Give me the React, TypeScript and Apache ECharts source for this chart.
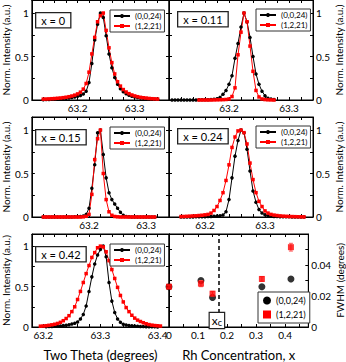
import { useEffect, useRef } from "react";
import * as echarts from "echarts";

const FONT = "Lato, 'Open Sans', 'DejaVu Sans', sans-serif";
const NAME_BLACK = "(0,0,24)";
const NAME_RED = "(1,2,21)";

// ---------- Panel 1 : x = 0
const p1X = [63.14, 63.145, 63.15, 63.155, 63.16, 63.165, 63.17, 63.175, 63.18, 63.185, 63.19, 63.195, 63.2, 63.205, 63.21, 63.215, 63.22, 63.225, 63.23, 63.235, 63.24, 63.245, 63.25, 63.255, 63.26, 63.265, 63.27, 63.275, 63.28, 63.285, 63.29, 63.295, 63.3, 63.305, 63.31, 63.315, 63.32, 63.325, 63.33, 63.335, 63.34];
const p1Black = [0.004, 0.005, 0.006, 0.008, 0.009, 0.011, 0.013, 0.016, 0.019, 0.023, 0.028, 0.034, 0.042, 0.052, 0.068, 0.1, 0.2, 0.42, 0.69, 0.87, 1.0, 0.95, 0.74, 0.53, 0.37, 0.26, 0.18, 0.13, 0.095, 0.072, 0.056, 0.044, 0.035, 0.028, 0.023, 0.019, 0.016, 0.013, 0.011, 0.009, 0.008];
const p1Red = [0.01, 0.011, 0.013, 0.015, 0.017, 0.02, 0.023, 0.027, 0.032, 0.038, 0.046, 0.056, 0.07, 0.09, 0.125, 0.19, 0.32, 0.53, 0.72, 0.9, 0.97, 1.0, 0.8, 0.6, 0.43, 0.3, 0.21, 0.16, 0.12, 0.092, 0.073, 0.058, 0.047, 0.038, 0.031, 0.026, 0.022, 0.018, 0.015, 0.013, 0.011];

// ---------- Panel 2 : x = 0.11
const p2BlackX = [63.105, 63.11, 63.115, 63.12, 63.125, 63.13, 63.135, 63.14, 63.145, 63.15, 63.155, 63.16, 63.165, 63.17, 63.175, 63.18, 63.185, 63.19, 63.195, 63.2, 63.205, 63.21, 63.215, 63.22, 63.225, 63.23, 63.235, 63.24, 63.245, 63.25, 63.255, 63.26, 63.265, 63.27, 63.275];
const p2Black = [0, 0, 0, 0, 0, 0, 0, 0.001, 0.001, 0.002, 0.002, 0.003, 0.004, 0.005, 0.008, 0.015, 0.03, 0.065, 0.11, 0.18, 0.28, 0.48, 0.65, 0.84, 1.0, 0.9, 0.72, 0.5, 0.3, 0.18, 0.1, 0.05, 0.02, 0.01, 0.005];
const p2RedX = [63.15, 63.155, 63.16, 63.165, 63.17, 63.175, 63.18, 63.185, 63.19, 63.195, 63.2, 63.205, 63.21, 63.215, 63.22, 63.225, 63.23, 63.235, 63.24, 63.245, 63.25, 63.255, 63.26, 63.265, 63.27, 63.275];
const p2Red = [0, 0, 0, 0, 0, 0.001, 0.002, 0.003, 0.004, 0.006, 0.012, 0.04, 0.14, 0.52, 0.78, 1.0, 0.9, 0.62, 0.33, 0.11, 0.035, 0.012, 0.005, 0.002, 0.001, 0];

// ---------- Panel 3 : x = 0.15
const p3X = [63.12, 63.125, 63.13, 63.135, 63.14, 63.145, 63.15, 63.155, 63.16, 63.165, 63.17, 63.175, 63.18, 63.185, 63.19, 63.195, 63.2, 63.205, 63.21, 63.215, 63.22, 63.225, 63.23, 63.235, 63.24, 63.245, 63.25, 63.255, 63.26, 63.265, 63.27, 63.275, 63.28, 63.285, 63.29, 63.295, 63.3, 63.305, 63.31, 63.315];
const p3Black = [0, 0, 0, 0, 0, 0, 0, 0, 0, 0, 0.001, 0.002, 0.003, 0.006, 0.012, 0.03, 0.1, 0.33, 0.6, 0.97, 1.0, 0.72, 0.45, 0.28, 0.2, 0.15, 0.1, 0.055, 0.02, 0.006, 0.002, 0, 0, 0, 0, 0, 0, 0, 0, 0];
const p3Red = [0, 0, 0, 0, 0, 0, 0, 0, 0, 0, 0, 0, 0, 0, 0.002, 0.008, 0.03, 0.26, 0.66, 0.9, 1.0, 0.5, 0.2, 0.06, 0.02, 0.006, 0.002, 0, 0, 0, 0, 0, 0, 0, 0, 0, 0, 0, 0, 0];

// ---------- Panel 4 : x = 0.24
const p4X = [63.16, 63.165, 63.17, 63.175, 63.18, 63.185, 63.19, 63.195, 63.2, 63.205, 63.21, 63.215, 63.22, 63.225, 63.23, 63.235, 63.24, 63.245, 63.25, 63.255, 63.26, 63.265, 63.27, 63.275, 63.28, 63.285, 63.29, 63.295, 63.3, 63.305, 63.31, 63.315, 63.32, 63.325, 63.33, 63.335, 63.34, 63.345, 63.35, 63.355, 63.36, 63.365];
const p4Black = [0, 0, 0, 0.001, 0.001, 0.002, 0.002, 0.003, 0.004, 0.005, 0.006, 0.008, 0.01, 0.014, 0.022, 0.06, 0.2, 0.45, 0.7, 0.88, 1.0, 0.97, 0.78, 0.53, 0.3, 0.17, 0.085, 0.045, 0.025, 0.015, 0.01, 0.007, 0.005, 0.004, 0.003, 0.002, 0.002, 0.001, 0.001, 0.001, 0, 0];
const p4Red = [0.005, 0.006, 0.008, 0.01, 0.012, 0.014, 0.017, 0.02, 0.025, 0.03, 0.045, 0.075, 0.12, 0.19, 0.28, 0.42, 0.6, 0.8, 0.92, 0.99, 1.0, 0.97, 0.84, 0.62, 0.43, 0.28, 0.18, 0.12, 0.07, 0.045, 0.03, 0.022, 0.017, 0.013, 0.01, 0.008, 0.006, 0.005, 0.004, 0.003, 0.002, 0.001];

// ---------- Panel 5 : x = 0.42
const p5BlackX = [63.205, 63.21, 63.215, 63.22, 63.225, 63.23, 63.235, 63.24, 63.245, 63.25, 63.255, 63.26, 63.265, 63.27, 63.275, 63.28, 63.285, 63.29, 63.295, 63.3, 63.305, 63.31, 63.315, 63.32, 63.325, 63.33, 63.335, 63.34, 63.345, 63.35, 63.355, 63.36, 63.365, 63.37, 63.375, 63.38, 63.385, 63.39, 63.395, 63.4];
const p5Black = [0.004, 0.005, 0.006, 0.008, 0.01, 0.013, 0.017, 0.022, 0.028, 0.036, 0.047, 0.062, 0.1, 0.155, 0.26, 0.44, 0.62, 0.78, 0.89, 0.96, 1.0, 0.87, 0.55, 0.32, 0.18, 0.1, 0.06, 0.035, 0.026, 0.019, 0.014, 0.011, 0.008, 0.006, 0.005, 0.004, 0.003, 0.002, 0.002, 0.001];
const p5RedX = [63.195, 63.2, 63.205, 63.21, 63.215, 63.22, 63.225, 63.23, 63.235, 63.24, 63.245, 63.25, 63.255, 63.26, 63.265, 63.27, 63.275, 63.28, 63.285, 63.29, 63.295, 63.3, 63.305, 63.31, 63.315, 63.32, 63.325, 63.33, 63.335, 63.34, 63.345, 63.35, 63.355, 63.36, 63.365, 63.37, 63.375, 63.38, 63.385, 63.39, 63.395, 63.4, 63.405];
const p5Red = [0.01, 0.012, 0.016, 0.021, 0.027, 0.034, 0.044, 0.058, 0.078, 0.105, 0.14, 0.19, 0.25, 0.34, 0.44, 0.55, 0.66, 0.76, 0.86, 0.92, 0.98, 1.0, 0.99, 0.93, 0.82, 0.71, 0.6, 0.49, 0.39, 0.31, 0.24, 0.19, 0.145, 0.11, 0.085, 0.068, 0.053, 0.04, 0.03, 0.023, 0.018, 0.015, 0.012];

// ---------- Panel 6 : FWHM vs Rh concentration (positions)
const fwhmX = [0, 0.11, 0.15, 0.32, 0.42];
const fwhmBlack = [0.026, 0.030, 0.019, 0.026, 0.031];
const fwhmRed = [0.026, 0.028, 0.0215, 0.031, 0.0515];
const fwhmRedErr = [0.001, 0.002, 0.0015, 0.0015, 0.0025];
const xc = 0.165;

// tick labels
const peakYLabels = [0, 0.5, 1];
const peakYTicks = [0, 0.25, 0.5, 0.75, 1];
const fwhmXLabels = [0, 0.1, 0.2, 0.3, 0.4];
const fwhmYLabels = [0, 0.02, 0.04];

const PANELS = [
  { label: "x = 0", xMin: 63.12, xMax: 63.36, labels: [63.2, 63.3], bx: p1X, by: p1Black, rx: p1X, ry: p1Red },
  { label: "x = 0.11", xMin: 63.1, xMax: 63.34, labels: [63.2, 63.3], bx: p2BlackX, by: p2Black, rx: p2RedX, ry: p2Red },
  { label: "x = 0.15", xMin: 63.1, xMax: 63.34, labels: [63.2, 63.3], bx: p3X, by: p3Black, rx: p3X, ry: p3Red },
  { label: "x = 0.24", xMin: 63.14, xMax: 63.38, labels: [63.2, 63.3], bx: p4X, by: p4Black, rx: p4X, ry: p4Red },
  { label: "x = 0.42", xMin: 63.18, xMax: 63.42, labels: [63.2, 63.3, 63.4], bx: p5BlackX, by: p5Black, rx: p5RedX, ry: p5Red },
];

const GRID_BOXES = [
  { left: 24, top: 0, width: 145, height: 100 },
  { left: 169, top: 0, width: 144, height: 100 },
  { left: 24, top: 117, width: 145, height: 100 },
  { left: 169, top: 117, width: 144, height: 100 },
  { left: 24, top: 234, width: 145, height: 99 },
  { left: 169, top: 234, width: 144, height: 99 },
];

function steps(min: number, max: number, step: number) {
  const out: number[] = [];
  const start = Math.ceil(min / step - 1e-6) * step;
  for (let v = start; v <= max + 1e-9; v += step) out.push(Math.round(v * 1e6) / 1e6);
  return out;
}

const fmt = (v: number) => String(parseFloat(Number(v).toFixed(4)));

function makeAxis(
  kind: "x" | "y",
  gridIndex: number,
  min: number,
  max: number,
  ticks: number[],
  labels: number[] | null,
  position: string,
  name = "",
  nameGap = 0
) {
  return {
    type: "value",
    gridIndex,
    min,
    max,
    position,
    name,
    nameLocation: "middle",
    nameGap,
    nameRotate: kind === "y" ? 90 : 0,
    nameTextStyle: {
      fontFamily: FONT,
      fontSize: kind === "y" ? 10 : 13,
      color: "#000",
    },
    axisLine: { show: true, onZero: false, lineStyle: { color: "#000", width: 1 } },
    axisTick: {
      show: true,
      inside: true,
      length: 3,
      customValues: ticks,
      lineStyle: { color: "#000", width: 1 },
    },
    axisLabel: labels
      ? {
          show: true,
          customValues: labels,
          formatter: fmt,
          fontFamily: FONT,
          fontSize: 10,
          color: "#000",
          margin: 3,
        }
      : { show: false },
    splitLine: { show: false },
  };
}

export default function App() {
  const ref = useRef<HTMLDivElement>(null);

  useEffect(() => {
    if (!ref.current) return;
    const chart = echarts.init(ref.current, undefined, { renderer: "svg" });

    const grid = GRID_BOXES.map((g) => ({
      ...g,
      show: true,
      borderColor: "#000",
      borderWidth: 1,
      backgroundColor: "transparent",
    }));

    const xAxis: any[] = [];
    const yAxis: any[] = [];
    const series: any[] = [];
    const legend: any[] = [];
    const graphic: any[] = [];

    PANELS.forEach((p, i) => {
      const col = i % 2;
      const xt = steps(p.xMin, p.xMax, 0.02);
      xAxis.push(
        makeAxis("x", i, p.xMin, p.xMax, xt, p.labels, "bottom", i === 4 ? "Two Theta (degrees)" : "", 21)
      );
      xAxis.push(makeAxis("x", i, p.xMin, p.xMax, xt, null, "top"));
      yAxis.push(
        makeAxis("y", i, 0, 1.15, peakYTicks, peakYLabels, col === 0 ? "left" : "right", "Norm. Intensity (a.u.)", col === 0 ? 12 : 21)
      );
      yAxis.push(makeAxis("y", i, 0, 1.15, peakYTicks, null, col === 0 ? "right" : "left"));

      series.push({
        type: "line",
        name: NAME_BLACK,
        xAxisIndex: 2 * i,
        yAxisIndex: 2 * i,
        data: p.bx.map((x, k) => [x, p.by[k]]),
        symbol: "circle",
        symbolSize: 3.5,
        lineStyle: { color: "#000", width: 1 },
        itemStyle: { color: "#000" },
        color: "#000",
        clip: true,
      });
      series.push({
        type: "line",
        name: NAME_RED,
        xAxisIndex: 2 * i,
        yAxisIndex: 2 * i,
        data: p.rx.map((x, k) => [x, p.ry[k]]),
        symbol: "rect",
        symbolSize: 3.5,
        lineStyle: { color: "#ff0000", width: 1 },
        itemStyle: { color: "#ff0000" },
        color: "#ff0000",
        clip: true,
      });

      const g = GRID_BOXES[i];
      legend.push({
        data: [NAME_BLACK, NAME_RED],
        orient: "vertical",
        left: g.left + (col === 0 ? 86 : 87),
        top: g.top + (col === 0 ? 10 : 9),
        itemWidth: 16,
        itemHeight: 5,
        itemGap: 2,
        padding: [2, 3, 2, 3],
        borderColor: "#333",
        borderWidth: 1,
        backgroundColor: "#fff",
        selectedMode: false,
        textStyle: { fontFamily: FONT, fontSize: 8, color: "#000" },
      });

      graphic.push({
        type: "text",
        left: g.left + (col === 0 ? 11 : 8),
        top: g.top + (col === 0 ? 12 : 11),
        z: 100,
        style: {
          text: p.label,
          font: `11px ${FONT}`,
          fill: "#000",
          backgroundColor: "#fff",
          borderColor: "#222",
          borderWidth: 1.3,
          padding: [2, 5, 1, 5],
        },
      });
    });

    // Panel 6
    const x6 = steps(0, 0.48, 0.05);
    xAxis.push(makeAxis("x", 5, 0, 0.48, x6, fwhmXLabels, "bottom", "Rh Concentration, x", 21));
    xAxis.push(makeAxis("x", 5, 0, 0.48, x6, null, "top"));
    const y6 = steps(0, 0.06, 0.01);
    yAxis.push(makeAxis("y", 5, 0, 0.06, y6, fwhmYLabels, "right", "FWHM (degrees)", 24));
    yAxis.push(makeAxis("y", 5, 0, 0.06, y6, null, "left"));

    series.push({
      type: "line",
      name: "xc-line",
      xAxisIndex: 10,
      yAxisIndex: 10,
      data: [],
      markLine: {
        silent: true,
        symbol: ["none", "none"],
        label: { show: false },
        lineStyle: { color: "#000", type: [4, 3], width: 1.5 },
        data: [{ xAxis: xc }],
      },
    });
    series.push({
      type: "scatter",
      name: NAME_BLACK,
      xAxisIndex: 10,
      yAxisIndex: 10,
      data: fwhmX.map((x, k) => [x, fwhmBlack[k]]),
      symbol: "circle",
      symbolSize: 7,
      itemStyle: { color: "#000" },
      clip: false,
      z: 3,
    });
    series.push({
      type: "custom",
      name: "err",
      xAxisIndex: 10,
      yAxisIndex: 10,
      data: fwhmX.map((x, k) => [x, fwhmRed[k] - fwhmRedErr[k], fwhmRed[k] + fwhmRedErr[k]]),
      renderItem: (_params: any, api: any) => {
        const x = api.value(0);
        const lo = api.coord([x, api.value(1)]);
        const hi = api.coord([x, api.value(2)]);
        const w = 2;
        const st = { stroke: "#ff5555", lineWidth: 1 };
        return {
          type: "group",
          children: [
            { type: "line", shape: { x1: lo[0], y1: lo[1], x2: hi[0], y2: hi[1] }, style: st },
            { type: "line", shape: { x1: lo[0] - w, y1: lo[1], x2: lo[0] + w, y2: lo[1] }, style: st },
            { type: "line", shape: { x1: hi[0] - w, y1: hi[1], x2: hi[0] + w, y2: hi[1] }, style: st },
          ],
        };
      },
      z: 4,
    });
    series.push({
      type: "scatter",
      name: NAME_RED,
      xAxisIndex: 10,
      yAxisIndex: 10,
      data: fwhmX.map((x, k) => [x, fwhmRed[k]]),
      symbol: "rect",
      symbolSize: 6,
      itemStyle: { color: "#ff0000" },
      clip: false,
      z: 5,
    });

    const g6 = GRID_BOXES[5];
    legend.push({
      data: [
        { name: NAME_BLACK, icon: "circle" },
        { name: NAME_RED, icon: "rect" },
      ],
      orient: "vertical",
      left: g6.left + 89,
      top: g6.top + 58,
      itemWidth: 8,
      itemHeight: 8,
      itemGap: 5,
      padding: [4, 4, 4, 5],
      borderColor: "#333",
      borderWidth: 1,
      backgroundColor: "#fff",
      selectedMode: false,
      textStyle: { fontFamily: FONT, fontSize: 9, color: "#000" },
    });

    chart.setOption({
      animation: false,
      backgroundColor: "#fff",
      grid,
      xAxis,
      yAxis,
      legend,
      series,
      graphic,
    });

    const px = chart.convertToPixel({ xAxisIndex: 10 }, xc) as number;
    chart.setOption({
      graphic: [
        ...graphic,
        {
          type: "text",
          x: px,
          y: g6.top + 79,
          z: 100,
          style: {
            text: "{m|x}{s|c}",
            align: "center",
            verticalAlign: "top",
            backgroundColor: "#fff",
            borderColor: "#222",
            borderWidth: 1.2,
            padding: [0, 2, 1, 2],
            rich: {
              m: { font: `12px ${FONT}`, fill: "#000" },
              s: { font: `9px ${FONT}`, fill: "#000", padding: [5, 0, 0, 0] },
            },
          },
        },
      ],
    });

    return () => chart.dispose();
  }, []);

  return (
    <div
      ref={ref}
      style={{ position: "absolute", left: 0, top: 0, width: 346, height: 362 }}
    />
  );
}
